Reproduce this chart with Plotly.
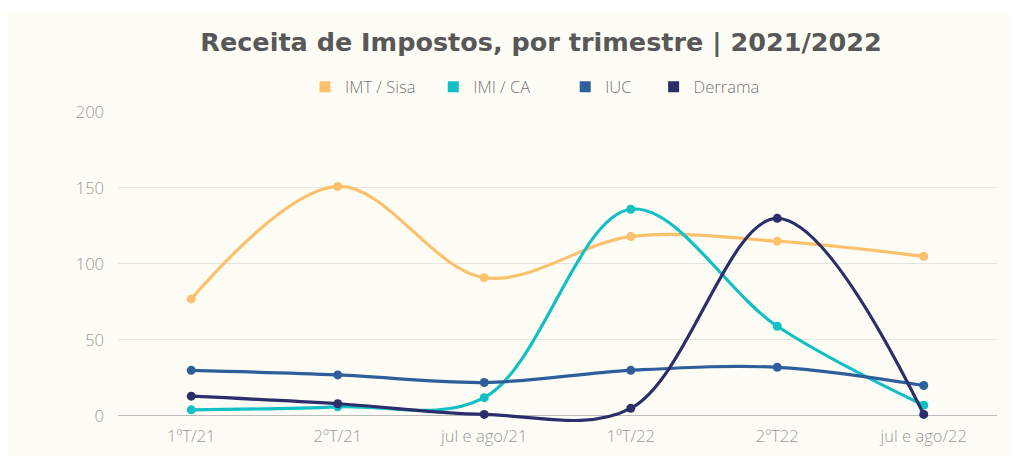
import plotly.graph_objects as go

categories = ["1ºT/21", "2ºT/21", "jul e ago/21", "1ºT/22", "2ºT22", "jul e ago/22"]
imt_sisa = [77, 151, 91, 118, 115, 105]
imi_ca = [4, 6, 12, 136, 59, 7]
iuc = [30, 27, 22, 30, 32, 20]
derrama = [13, 8, 1, 5, 130, 1]

series_names = ["IMT / Sisa", "IMI / CA", "IUC", "Derrama"]
series_values = [imt_sisa, imi_ca, iuc, derrama]
series_colors = ["#FDC06C", "#12BFC5", "#2E5F9B", "#2B2E6A"]

fig = go.Figure()
for name, vals, col in zip(series_names, series_values, series_colors):
    fig.add_trace(go.Scatter(
        x=categories, y=vals, name=name, mode="lines+markers",
        line=dict(color=col, width=3.2, shape="spline", smoothing=1),
        marker=dict(color=col, size=9),
        showlegend=False, cliponaxis=False,
    ))
pads = [3, 7, 4, 0]
for name, col, n in zip(series_names, series_colors, pads):
    fig.add_trace(go.Scatter(
        x=[None], y=[None], name=name + "\u00a0" * n, mode="markers",
        marker=dict(color=col, size=11, symbol="square"),
        showlegend=True,
    ))

OFF = 8  # page body offset
W, H = 1017, 457
YMIN, YMAX = -4, 200
px_per_unit = (416 - 112) / 200.0
bottom_px = 416 + (0 - YMIN) * px_per_unit
L = 118 - OFF
T = 112 - OFF
R = W - 997 + OFF
B = H - (bottom_px - OFF)
pw, ph = W - L - R, H - T - B

def py(pix):
    return (H - B - (pix - OFF)) / ph

def px(pix):
    return ((pix - OFF) - L) / pw

fig.add_shape(type="rect", xref="paper", yref="paper",
              x0=px(8), x1=px(W + OFF),
              y0=py(456), y1=py(13),
              fillcolor="#FDFDF5", line=dict(width=0), layer="below")

fig.update_layout(
    width=W, height=H,
    margin=dict(l=L, r=R, t=T, b=B),
    paper_bgcolor="white",
    plot_bgcolor="rgba(0,0,0,0)",
    title=dict(text="Receita de Impostos, por trimestre | 2021/2022",
               x=(541 - OFF) / W, xref="container", xanchor="center",
               y=1 - (42 - OFF) / H, yref="container", yanchor="middle",
               font=dict(family="DejaVu Sans", size=25.5, color="#585858", weight="bold")),
    legend=dict(orientation="h", x=px(305), xanchor="left",
                y=py(87), yanchor="middle",
                font=dict(family="Open Sans", size=16.5, color="#777777", weight=300),
                bgcolor="rgba(0,0,0,0)"),
    font=dict(family="Open Sans"),
    xaxis=dict(range=[-0.5, 5.5], showgrid=False, showline=False, ticks="",
               zeroline=False, ticklabelstandoff=2,
               tickfont=dict(family="Open Sans", size=16.5, color="#999999", weight=300)),
    yaxis=dict(range=[YMIN, YMAX], tickvals=[0, 50, 100, 150, 200],
               showgrid=True, gridcolor="#E6E6E0", gridwidth=1,
               zeroline=True, zerolinecolor="#BBBBBB", zerolinewidth=1,
               ticks="", ticklabelstandoff=13,
               tickfont=dict(family="Open Sans", size=16.5, color="#999999", weight=300)),
)

fig.write_html("out.html")
